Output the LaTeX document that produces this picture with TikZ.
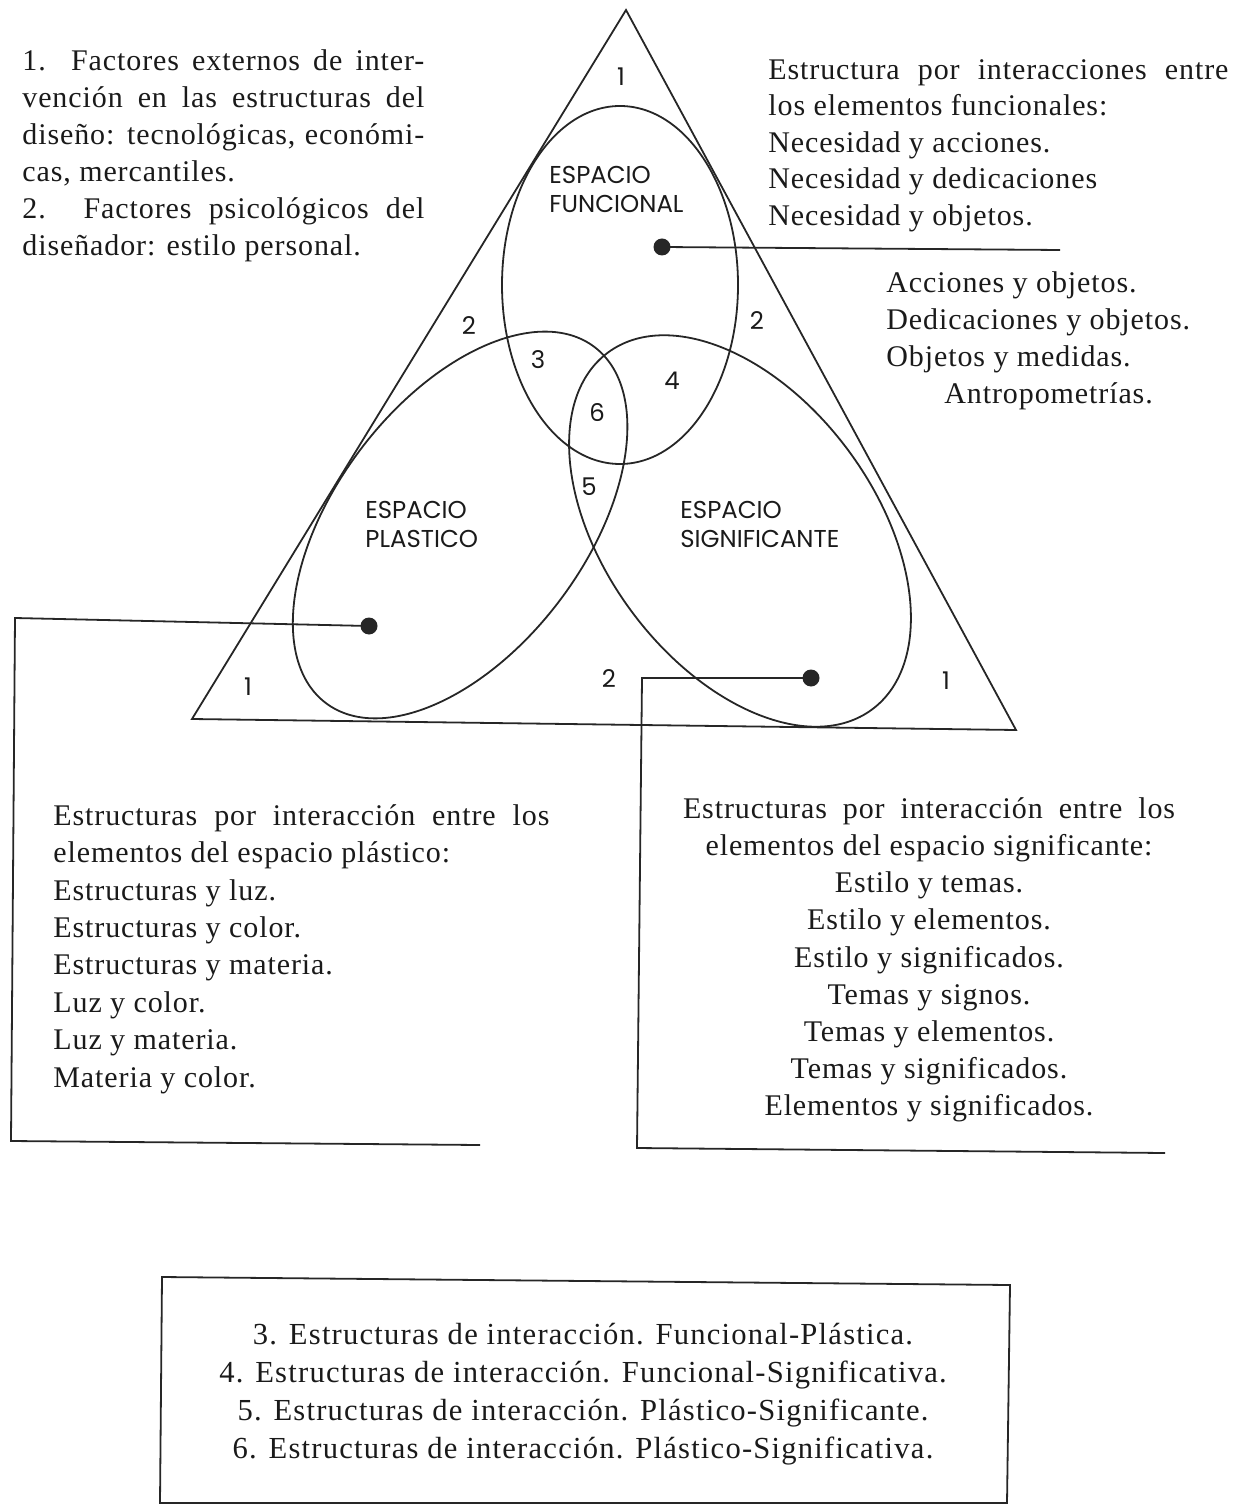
\documentclass[tikz,border=0pt]{standalone}
\usepackage{fontspec}
\setmainfont{Liberation Serif}[LetterSpace=3]
\newfontfamily\labfont{Poppins}
\definecolor{linec}{HTML}{262626}
\definecolor{textc}{HTML}{1A1A1A}
\begin{document}
\begin{tikzpicture}[x=0.5pt,y=-0.5pt,
  ln/.style={draw=linec, line width=0.9pt},
  dot/.style={circle, fill=linec, inner sep=0pt, minimum size=8.5pt},
  lab/.style={font=\labfont\fontsize{12.2}{14.5}\selectfont, text=textc, inner sep=0pt, align=left},
  txt/.style={font=\fontsize{15}{18.5}\selectfont, text=textc, inner sep=0pt, align=left},
  txtc/.style={font=\fontsize{15}{18.6}\selectfont, text=textc, inner sep=0pt, align=center}
]
\useasboundingbox (0,0) rectangle (1235,1507);

% triangle
\coordinate (A) at (626,10);
\coordinate (B) at (192,719);
\coordinate (C) at (1016,730);
\draw[ln] (A) -- (B) -- (C) -- cycle;

% ellipses
\coordinate (F) at (620,285);
\coordinate (P) at (460,525);
\coordinate (S) at (740,531);
\draw[ln] (F) ellipse [x radius=118, y radius=179];
\draw[ln, rotate around={53:(P)}] (P) ellipse [x radius=223, y radius=125];
\draw[ln, rotate around={-53.5:(S)}] (S) ellipse [x radius=222, y radius=135];

% dots and connectors
\node[dot] (df) at (662,247) {};
\node[dot] (dp) at (369,626) {};
\node[dot] (ds) at (811,678) {};
\coordinate (fe) at (1060,250);
\coordinate (p1) at (15,618);
\coordinate (p2) at (11,1141);
\coordinate (p3) at (480,1145);
\coordinate (s1) at (642,678);
\coordinate (s2) at (637,1148);
\coordinate (s3) at (1165,1153);
\draw[ln] (df.center) -- (fe);
\draw[ln] (dp.center) -- (p1) -- (p2) -- (p3);
\draw[ln] (ds.center) -- (s1) -- (s2) -- (s3);

% labels in the diagram
\node[lab] (n1t) at (621,77) {1};
\node[lab, anchor=north west] (lf) at (549,166) {ESPACIO\\FUNCIONAL};
\node[lab] (n2l) at (469,326) {2};
\node[lab] (n2r) at (757,321) {2};
\node[lab] (n3) at (538,360) {3};
\node[lab] (n4) at (672,381) {4};
\node[lab] (n6) at (597,413) {6};
\node[lab] (n5) at (589,487) {5};
\node[lab, anchor=north west] (lp) at (365,501) {ESPACIO\\PLASTICO};
\node[lab, anchor=north west] (ls) at (680,501) {ESPACIO\\SIGNIFICANTE};
\node[lab] (n1l) at (248,687) {1};
\node[lab] (n2b) at (609,679) {2};
\node[lab] (n1r) at (946,681) {1};

% text blocks
\node[txt, anchor=north west] (tl) at (22,49) {%
\makebox[201pt][s]{1. Factores externos de inter-}\\
\makebox[201pt][s]{vención en las estructuras del}\\
\makebox[201pt][s]{diseño: tecnológicas, económi-}\\
cas, mercantiles.\\
\makebox[201pt][s]{2. Factores psicológicos del}\\
diseñador: estilo personal.};

\node[txt, font=\fontsize{15}{18.25}\selectfont, anchor=north west] (tr) at (768,59) {%
\makebox[230pt][s]{Estructura por interacciones entre}\\
los elementos funcionales:\\
Necesidad y acciones.\\
Necesidad y dedicaciones\\
Necesidad y objetos.};

\node[txt, anchor=north west] (tr2) at (886,271) {%
Acciones y objetos.\\
Dedicaciones y objetos.\\
Objetos y medidas.\\
\hspace*{29pt}Antropometrías.};

\node[txt, font=\fontsize{15}{18.7}\selectfont, anchor=north west] (bl) at (53,804) {%
\makebox[248pt][s]{Estructuras por interacción entre los}\\
elementos del espacio plástico:\\
Estructuras y luz.\\
Estructuras y color.\\
Estructuras y materia.\\
Luz y color.\\
Luz y materia.\\
Materia y color.};

\node[txtc, anchor=north] (br) at (929,797) {%
\makebox[246pt][s]{Estructuras por interacción entre los}\\
elementos del espacio significante:\\
Estilo y temas.\\
Estilo y elementos.\\
Estilo y significados.\\
Temas y signos.\\
Temas y elementos.\\
Temas y significados.\\
Elementos y significados.};

% bottom box
\coordinate (q1) at (162,1277);
\coordinate (q2) at (1010,1285);
\coordinate (q3) at (1007,1503);
\coordinate (q4) at (160,1503);
\draw[ln] (q1) -- (q2) -- (q3) -- (q4) -- cycle;
\node[txtc, font=\fontsize{15.3}{19}\selectfont\addfontfeatures{LetterSpace=4}, anchor=north] (bx) at (583,1323) {%
3. Estructuras de interacción. Funcional-Plástica.\\
4. Estructuras de interacción. Funcional-Significativa.\\
5. Estructuras de interacción. Plástico-Significante.\\
6. Estructuras de interacción. Plástico-Significativa.};
\end{tikzpicture}
\end{document}
